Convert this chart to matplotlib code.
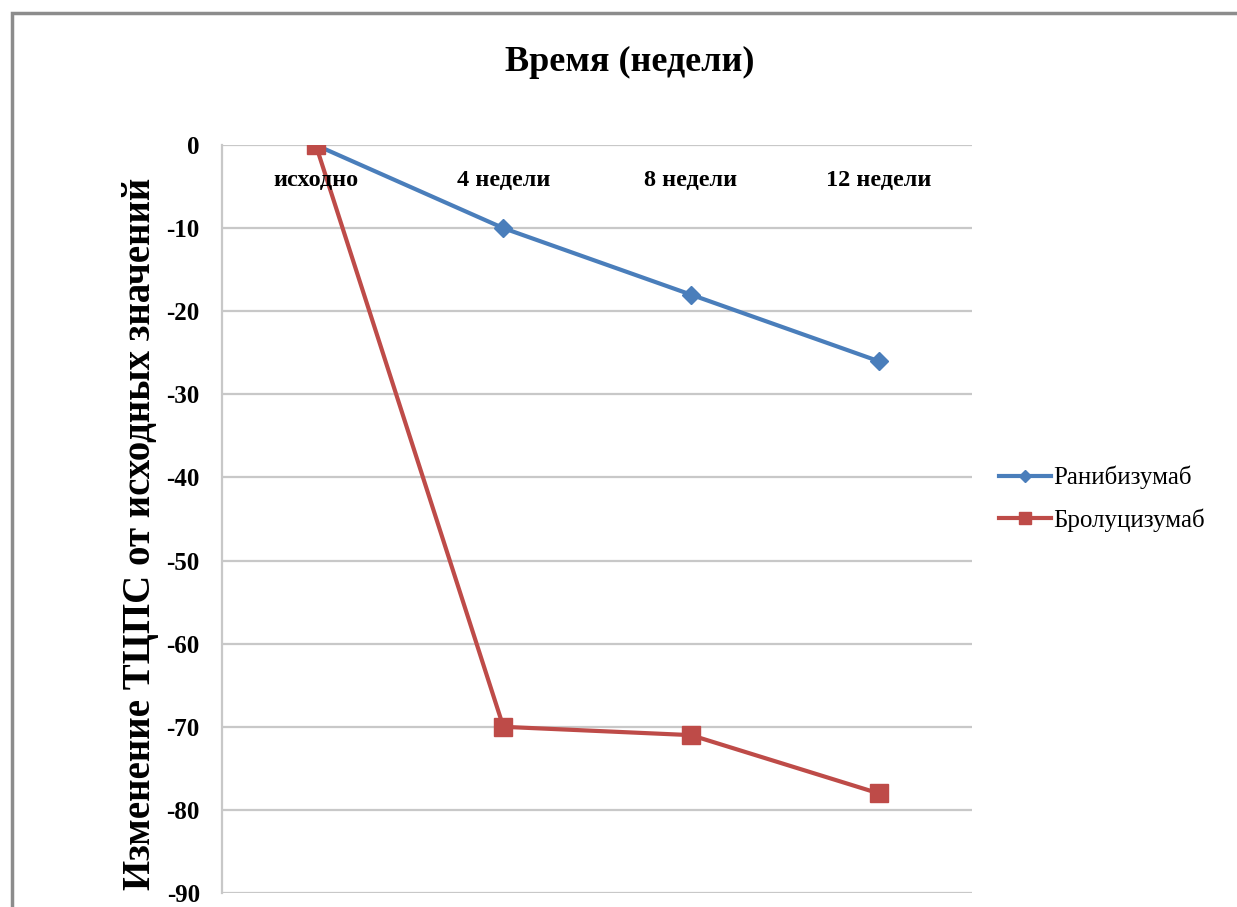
import matplotlib.pyplot as plt
from matplotlib.patches import Rectangle

# Данные: изменение ТЦПС от исходных значений
weeks = ['исходно', '4 недели', '8 недели', '12 недели']
ranibizumab = [0, -10, -18, -26]
brolucizumab = [0, -70, -71, -78]

plt.rcParams['font.family'] = ['Liberation Serif', 'DejaVu Serif']
plt.rcParams['axes.unicode_minus'] = False

fig = plt.figure(figsize=(12.37, 9.07), dpi=100)
ax = fig.add_axes([0.1795, 0.0154, 0.6065, 0.8247])

# рамка вокруг диаграммы
fig.patches.append(Rectangle((12 / 1237, -0.1), 1.2, 1 - 13 / 907 + 0.1,
                             transform=fig.transFigure, fill=False,
                             edgecolor='#8c8c8c', linewidth=2.5))

x = list(range(len(weeks)))
ax.plot(x, ranibizumab, color='#4a7ebb', linewidth=3, marker='D',
        markersize=9, label='Ранибизумаб', zorder=3)
ax.plot(x, brolucizumab, color='#be4b48', linewidth=3, marker='s',
        markersize=13, label='Бролуцизумаб', zorder=3)

ax.set_xlim(-0.5, len(weeks) - 0.5)
ax.set_ylim(-90, 0)
ax.set_yticks(range(-90, 1, 10))
ax.tick_params(axis='y', length=0, pad=16, labelsize=18)
for t in ax.get_yticklabels():
    t.set_fontweight('bold')
ax.set_xticks([])
ax.yaxis.grid(True, color='#c8c8c8', linewidth=1.6)
ax.set_axisbelow(True)
for s in ['top', 'right', 'bottom']:
    ax.spines[s].set_visible(False)
ax.spines['left'].set_color('#c8c8c8')
ax.spines['left'].set_linewidth(1.6)

# подписи недель внутри области построения
for i, w in enumerate(weeks):
    ax.text(i, -4.3, w, ha='center', va='center', fontsize=17.5,
            fontweight='bold')

fig.text(0.509, 0.931, 'Время (недели)', ha='center', va='center',
         fontsize=26, fontweight='bold')
ax.set_ylabel('Изменение ТЦПС от исходных значений', fontsize=28,
              fontweight='bold')
ax.yaxis.set_label_coords(-0.084, 0.48)

ax.legend(loc='center left', bbox_to_anchor=(1.005, 0.527), frameon=False,
          fontsize=18, handlelength=2.1, handletextpad=0.1, labelspacing=0.75,
          markerscale=0.7)

fig.savefig('out.png', dpi=100)
